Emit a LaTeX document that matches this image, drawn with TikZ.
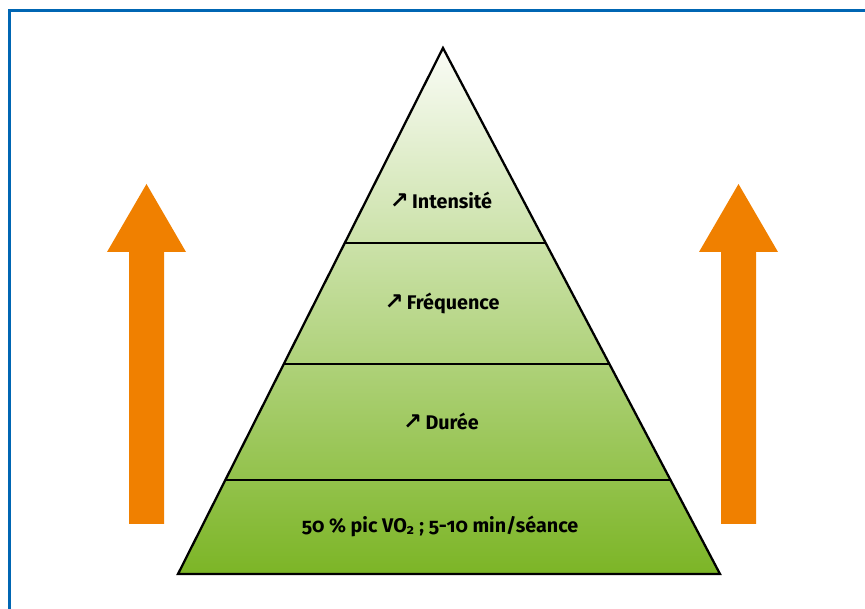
\documentclass[tikz,border=0pt]{standalone}
\usepackage{fontspec}
\setmainfont[Numbers=OldStyle]{Fira Sans}
\newfontfamily\symbfont{DejaVu Sans}
\usetikzlibrary{calc}

\definecolor{framebl}{RGB}{0,102,179}
\definecolor{arroworange}{RGB}{240,128,0}
\definecolor{pyrtop}{RGB}{250,252,246}
\definecolor{pyrbottom}{RGB}{124,181,38}

\newcommand{\upsym}{{\symbfont\bfseries\fontsize{17}{16}\selectfont ↗}\,}

\begin{document}
\begin{tikzpicture}[x=0.75pt,y=-0.75pt,
  level/.style={font=\bfseries\fontsize{14.8}{16}\selectfont},
  uparrow/.style={fill=arroworange},
  sep/.style={line width=1.7pt}]
\useasboundingbox (0,0) rectangle (865,609);
\draw[framebl,line width=2.25pt] (9.5,609) |- (865,11);

% pyramid
\coordinate (apex) at (443,48);
\coordinate (baseL) at (178,574);
\coordinate (baseR) at (720,574);
\shade[top color=pyrtop,bottom color=pyrbottom] (apex) -- (baseR) -- (baseL) -- cycle;
\foreach \yy/\nm in {243/a,364/b,480/c}{
  \coordinate (L\nm) at ($(apex)!{(\yy-48)/526}!(baseL)$);
  \coordinate (R\nm) at ($(apex)!{(\yy-48)/526}!(baseR)$);
  \draw[sep] (L\nm) -- (R\nm);
}
\draw[sep,line join=miter] (apex) -- (baseR) -- (baseL) -- cycle;

\node[level] (intens) at (441,200) {\upsym Intensité};
\node[level] (freq) at (442,303) {\upsym Fréquence};
\node[level] (duree) at (441,421) {\upsym Durée};
\node[level] (base) at (440,526) {50 \% pic VO\textsubscript{2} ; 5-10 min/séance};

% side arrows
\foreach \cx in {146.5,738.5}
  \fill[uparrow] (\cx-17.5,524) -- (\cx-17.5,252) -- (\cx-39.5,252) -- (\cx,184)
    -- (\cx+39.5,252) -- (\cx+17.5,252) -- (\cx+17.5,524) -- cycle;
\end{tikzpicture}
\end{document}
